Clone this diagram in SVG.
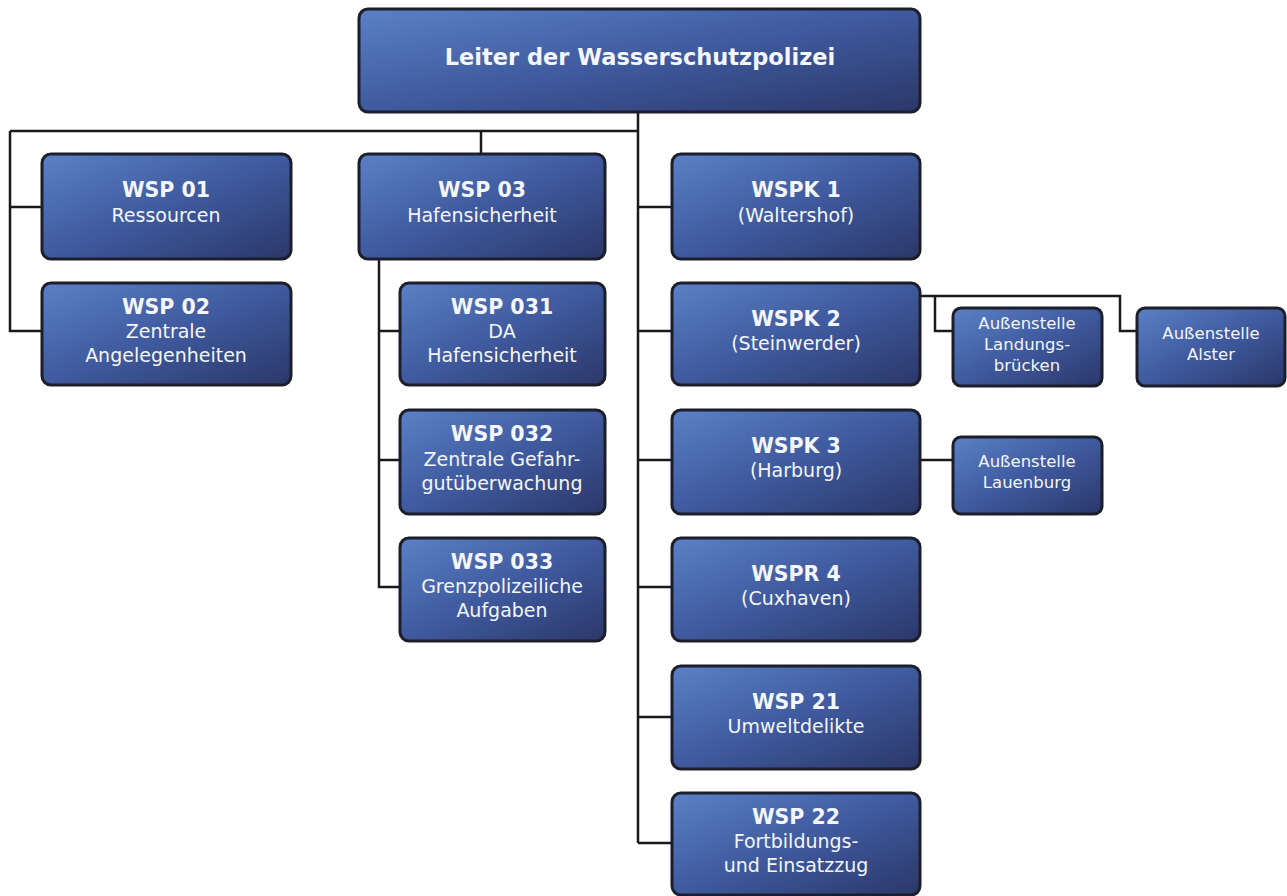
<svg xmlns="http://www.w3.org/2000/svg" width="1287" height="896" viewBox="0 0 1287 896">
<defs>
<linearGradient id="g" x1="0" y1="0" x2="1" y2="1">
<stop offset="0" stop-color="#5b80c6"/>
<stop offset="0.5" stop-color="#3f5a9e"/>
<stop offset="1" stop-color="#2b3769"/>
</linearGradient>
<style>
.box{fill:url(#g);stroke:#1c1f2b;stroke-width:3}
.t{font-family:"DejaVu Sans",Verdana,sans-serif;fill:#f4f6fb;text-anchor:middle}
.b{font-weight:bold;font-size:20.5px}
.r{font-size:19px}
.s{font-size:16.5px}
.c{fill:none;stroke:#1a1a1a;stroke-width:2.5}
</style>
</defs>
<rect width="1287" height="896" fill="#ffffff"/>
<g id="connectors" class="c">
<path d="M638 112 V843"/>
<path d="M10 131 H638"/>
<path d="M10 131 V331 H42"/>
<path d="M10 207 H42"/>
<path d="M481 131 V154"/>
<path d="M379 259 V587 H400"/>
<path d="M379 331 H400"/>
<path d="M379 460 H400"/>
<path d="M638 207 H672"/>
<path d="M638 331 H672"/>
<path d="M638 460 H672"/>
<path d="M638 587 H672"/>
<path d="M638 717 H672"/>
<path d="M638 843 H672"/>
<path d="M920 296 H1120 V331 H1137"/>
<path d="M935 296 V331 H953"/>
<path d="M920 460 H953"/>
</g>
<g id="leiter"><rect class="box" x="359" y="9" width="561" height="103" rx="9"/><text class="t" x="640" y="65" font-weight="bold" font-size="22.5">Leiter der Wasserschutzpolizei</text></g>
<g id="wsp01"><rect class="box" x="42" y="154" width="249" height="105" rx="9"/><text class="t b" x="166" y="197">WSP 01</text><text class="t r" x="166" y="222">Ressourcen</text></g>
<g id="wsp02"><rect class="box" x="42" y="283" width="249" height="102" rx="9"/><text class="t b" x="166" y="314">WSP 02</text><text class="t r" x="166" y="338">Zentrale</text><text class="t r" x="166" y="362">Angelegenheiten</text></g>
<g id="wsp03"><rect class="box" x="359" y="154" width="246" height="105" rx="9"/><text class="t b" x="482" y="197">WSP 03</text><text class="t r" x="482" y="222">Hafensicherheit</text></g>
<g id="wsp031"><rect class="box" x="400" y="283" width="205" height="102" rx="9"/><text class="t b" x="502" y="314">WSP 031</text><text class="t r" x="502" y="338">DA</text><text class="t r" x="502" y="362">Hafensicherheit</text></g>
<g id="wsp032"><rect class="box" x="400" y="410" width="205" height="104" rx="9"/><text class="t b" x="502" y="441">WSP 032</text><text class="t r" x="502" y="466">Zentrale Gefahr-</text><text class="t r" x="502" y="490">gutüberwachung</text></g>
<g id="wsp033"><rect class="box" x="400" y="538" width="205" height="103" rx="9"/><text class="t b" x="502" y="569">WSP 033</text><text class="t r" x="502" y="593">Grenzpolizeiliche</text><text class="t r" x="502" y="617">Aufgaben</text></g>
<g id="wspk1"><rect class="box" x="672" y="154" width="248" height="105" rx="9"/><text class="t b" x="796" y="197">WSPK 1</text><text class="t r" x="796" y="222">(Waltershof)</text></g>
<g id="wspk2"><rect class="box" x="672" y="283" width="248" height="102" rx="9"/><text class="t b" x="796" y="326">WSPK 2</text><text class="t r" x="796" y="350">(Steinwerder)</text></g>
<g id="wspk3"><rect class="box" x="672" y="410" width="248" height="104" rx="9"/><text class="t b" x="796" y="453">WSPK 3</text><text class="t r" x="796" y="477">(Harburg)</text></g>
<g id="wspr4"><rect class="box" x="672" y="538" width="248" height="103" rx="9"/><text class="t b" x="796" y="581">WSPR 4</text><text class="t r" x="796" y="605">(Cuxhaven)</text></g>
<g id="wsp21"><rect class="box" x="672" y="666" width="248" height="103" rx="9"/><text class="t b" x="796" y="709">WSP 21</text><text class="t r" x="796" y="733">Umweltdelikte</text></g>
<g id="wsp22"><rect class="box" x="672" y="793" width="248" height="102" rx="9"/><text class="t b" x="796" y="824">WSP 22</text><text class="t r" x="796" y="848">Fortbildungs-</text><text class="t r" x="796" y="872">und Einsatzzug</text></g>
<g id="landungsbruecken"><rect class="box" x="953" y="308" width="149" height="78" rx="8"/><text class="t s" x="1027" y="329">Außenstelle</text><text class="t s" x="1027" y="350">Landungs-</text><text class="t s" x="1027" y="371">brücken</text></g>
<g id="alster"><rect class="box" x="1137" y="308" width="148" height="78" rx="8"/><text class="t s" x="1211" y="339">Außenstelle</text><text class="t s" x="1211" y="360">Alster</text></g>
<g id="lauenburg"><rect class="box" x="953" y="437" width="149" height="77" rx="8"/><text class="t s" x="1027" y="467">Außenstelle</text><text class="t s" x="1027" y="488">Lauenburg</text></g>
</svg>
